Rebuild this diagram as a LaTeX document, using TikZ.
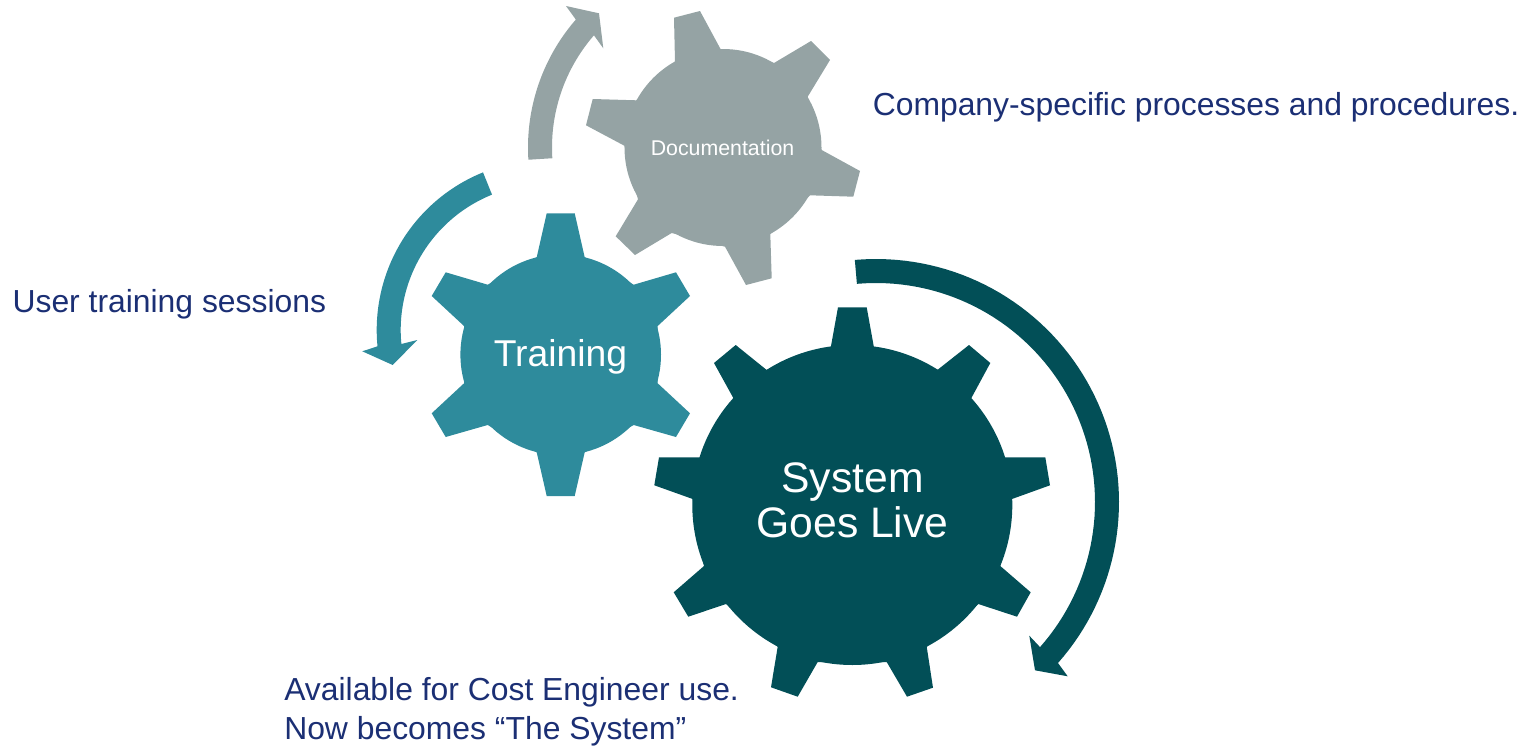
\documentclass[tikz,border=0pt]{standalone}
\usepackage{fontspec}
\setmainfont{Liberation Sans}
\definecolor{docgrey}{HTML}{95A3A4}
\definecolor{trainteal}{HTML}{2E8B9C}
\definecolor{livedark}{HTML}{024F57}
\definecolor{navytext}{HTML}{1B2F74}
\newcommand{\ringarrow}[8]{% colour, cx, cy, r outer, r inner, start, end, head points
  \fill[#1] plot[domain=#6:#7,samples=70] ({#2+#4*cos(\x)},{#3+#4*sin(\x)}) -- #8
    -- plot[domain=#7:#6,samples=70] ({#2+#5*cos(\x)},{#3+#5*sin(\x)}) -- cycle;}
\tikzset{
  note/.style={text=navytext,inner sep=0pt,anchor=base west,align=left,font=\fontsize{23.9}{29.25}\selectfont},
  geartext/.style={text=white,inner sep=0pt,align=center}
}
\begin{document}
\begin{tikzpicture}[x=0.75pt,y=-0.75pt]
\useasboundingbox (0,0) rectangle (1536,746);
% Documentation gear
\fill[docgrey] (723,147.5) circle[radius=98.5*0.75pt];
\fill[docgrey] (675,61.7) -- (674,17.7) -- (700,11) -- (720.7,49.3) -- (774,63) -- (811,41) -- (830,60)
  -- (807.7,96.7) -- (821.7,150) -- (860,171) -- (853.3,196.7) -- (810,195.3) -- (770.3,234)
  -- (771.7,278.3) -- (746,285) -- (725,246.7) -- (671.7,233) -- (635,255) -- (615.7,236.3)
  -- (638,199.3) -- (624.3,145.7) -- (586,125.3) -- (592.7,99) -- (636.3,100.3) -- cycle;
% Training gear
\fill[trainteal] (560.7,354.7) circle[radius=100.3*0.75pt];
\fill[trainteal] (536.7,257.3) -- (546.7,213.3) -- (574.7,213.3) -- (584.7,257.3) -- (633.7,284.7)
  -- (676,272.3) -- (690,296) -- (657.7,326) -- (657.7,383.3) -- (690,413.3) -- (676,437)
  -- (633.7,425) -- (584.7,452.3) -- (574.7,496) -- (546.7,496) -- (536.7,452.3) -- (487.7,425)
  -- (445.7,437) -- (431.7,413.3) -- (464,383.3) -- (464,326) -- (431.7,296) -- (445.7,272.3)
  -- (487.7,284.7) -- cycle;
% System gear
\fill[livedark] (852.3,505) circle[radius=160*0.75pt];
\fill[livedark] (830.7,347.7) -- (838,307.3) -- (866.7,307.3) -- (874,347.7) -- (937.3,370) -- (969,345)
  -- (990.3,363) -- (971,398.7) -- (1004.7,457.3) -- (1045.3,457.3) -- (1050,485.3) -- (1012,499)
  -- (1000.3,566) -- (1030.7,592.3) -- (1017,616.7) -- (978.3,604) -- (926.7,646.7) -- (933,687.7)
  -- (907,696.7) -- (886.7,662) -- (817.7,662) -- (797.7,696.7) -- (771,687.3) -- (777.7,646.7)
  -- (726,604) -- (688.3,616.7) -- (673.7,592.3) -- (704,566) -- (692.7,499) -- (654.3,485.3)
  -- (659,457.3) -- (700,457.3) -- (733.7,398.7) -- (714,363) -- (735.7,345) -- (766.7,370) -- cycle;
% Curved arrows
\ringarrow{docgrey}{723}{147.5}{195}{171}{176.4}{221}{(566,6) -- (599,13.3) -- (603.3,48.3)}
\ringarrow{trainteal}{546.7}{330}{170}{146}{248}{174.5}{(362.3,351.3) -- (392.7,365) -- (417.3,340)}
\ringarrow{livedark}{876}{502}{243}{219}{265}{401.5}{(1067.7,676.3) -- (1035,670.3) -- (1029.3,635.7)}
% Gear labels
\node[geartext,font=\fontsize{16}{19}\selectfont] (doc) at (722.5,148) {Documentation};
\node[geartext,font=\fontsize{28}{33}\selectfont] (train) at (560.5,356.5) {Training};
\node[geartext,font=\fontsize{32}{33.75}\selectfont] (live) at (852.5,500.5) {System\\Goes Live};
% Notes
\node[note] (n1) at (872.5,115) {Company-specific processes and procedures.};
\node[note] (n2) at (12.3,312.5) {User training sessions};
\node[note] (n3) at (284,700.5) {Available for Cost Engineer use.};
\node[note] (n4) at (284,739.5) {Now becomes “The System”};
\end{tikzpicture}
\end{document}
